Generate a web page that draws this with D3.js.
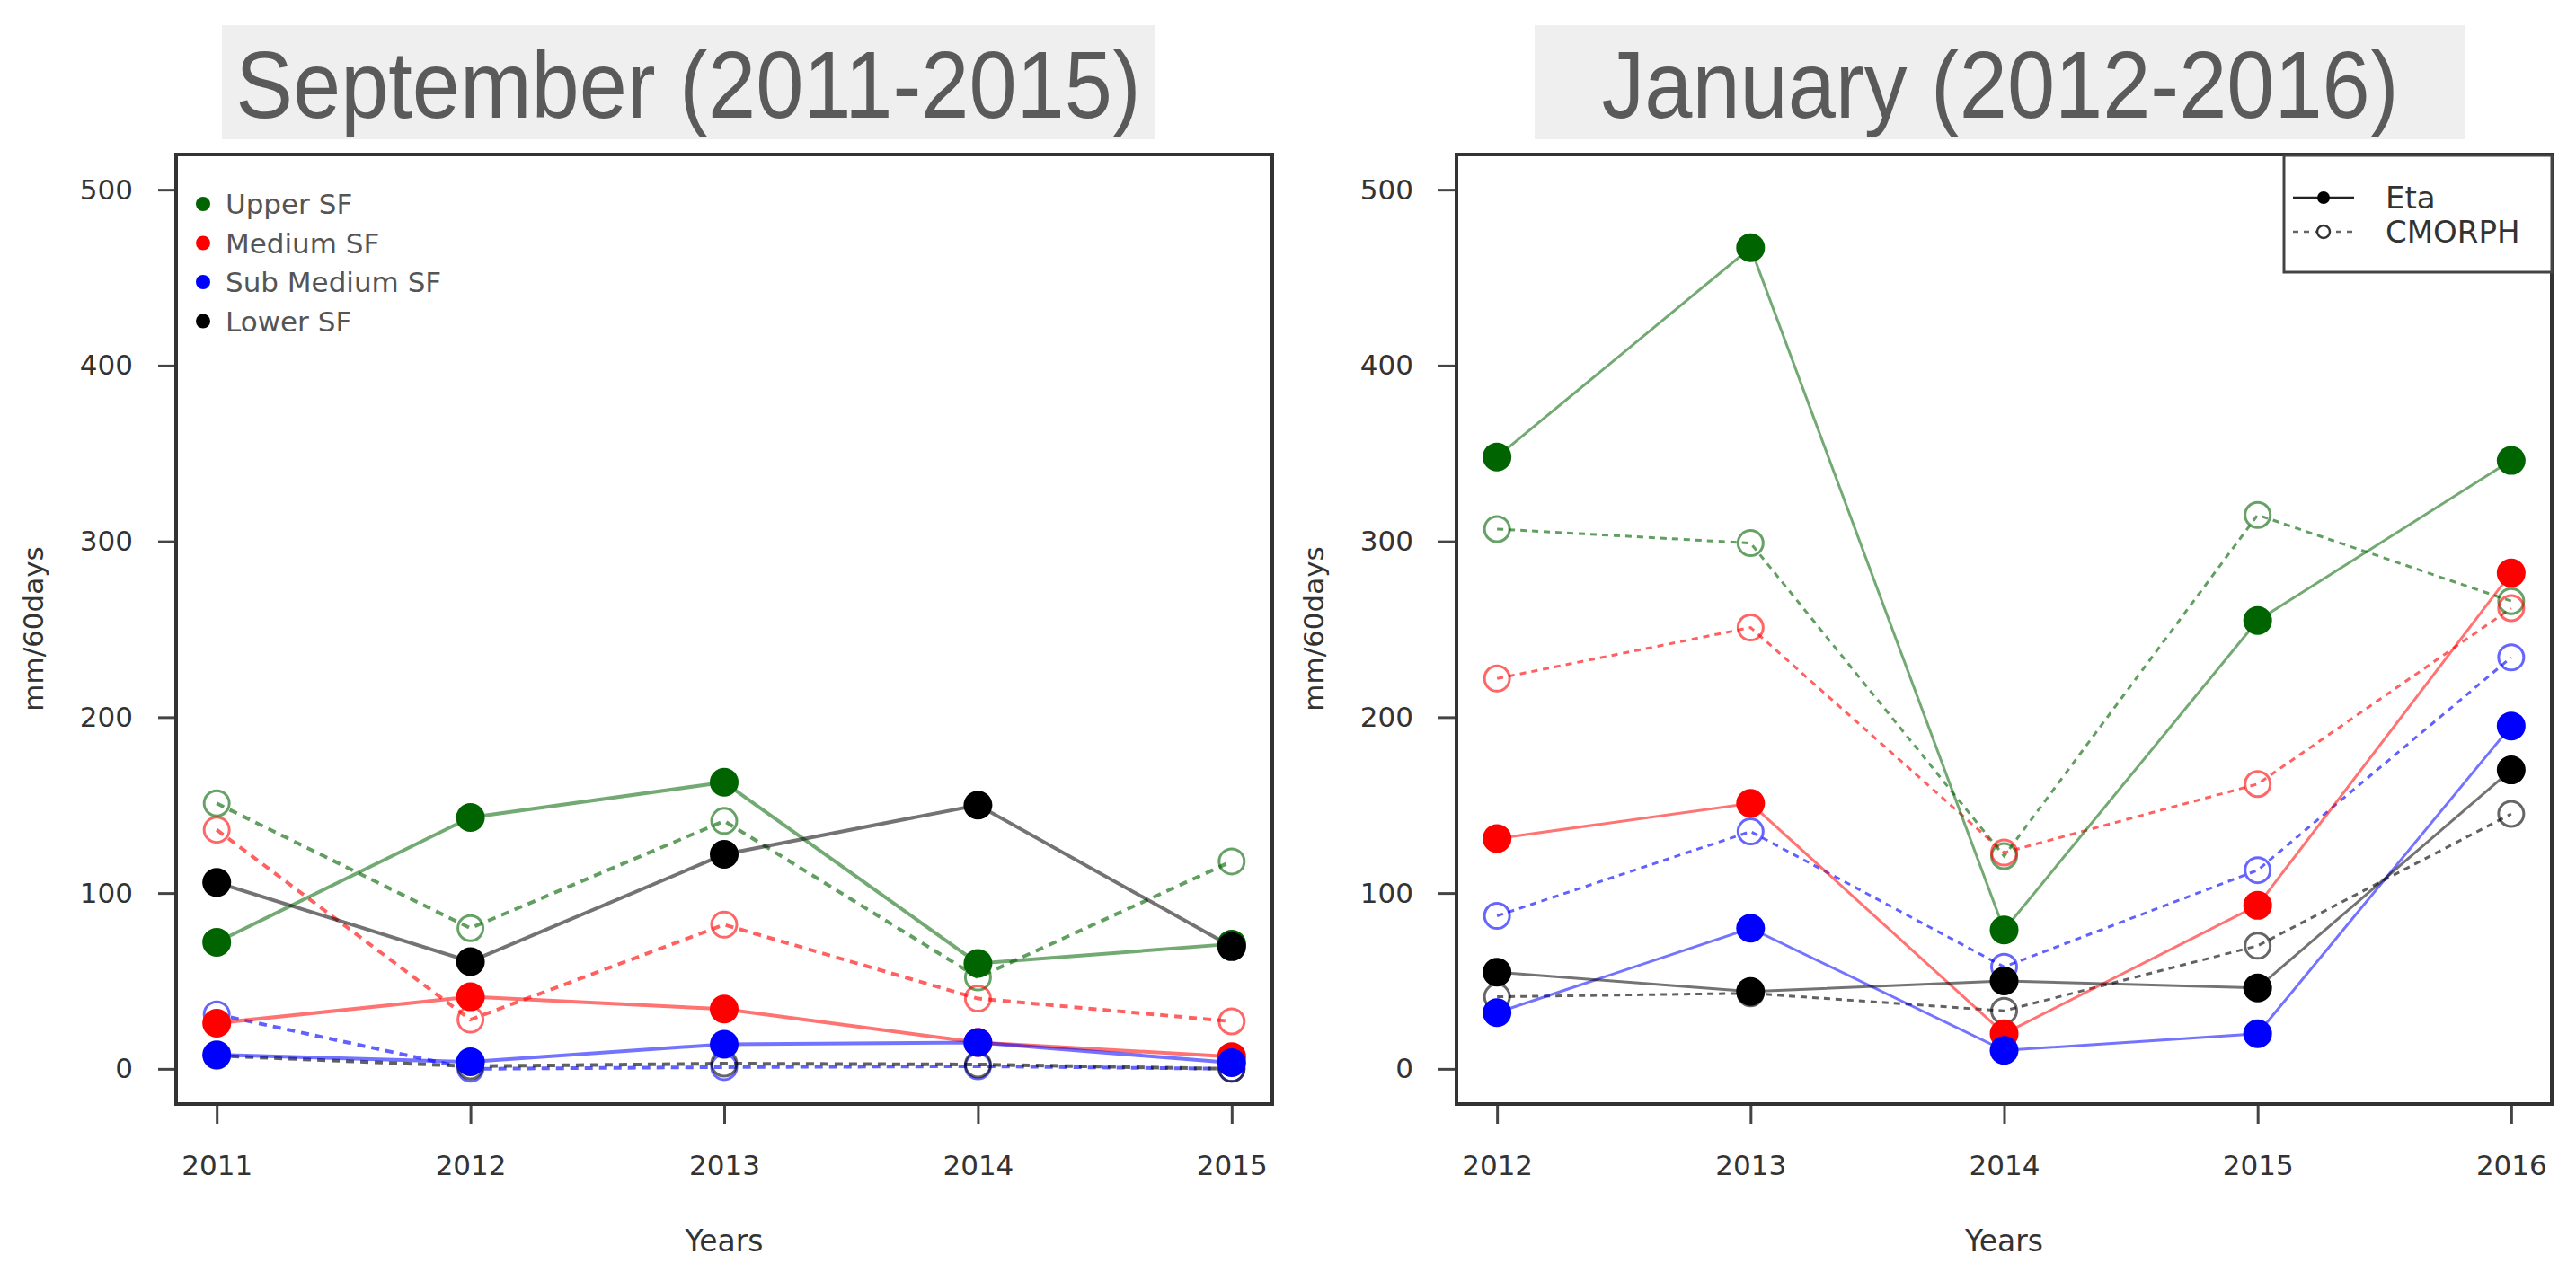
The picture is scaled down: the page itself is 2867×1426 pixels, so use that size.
<!DOCTYPE html>
<html>
<head>
<meta charset="utf-8">
<script src="https://cdn.jsdelivr.net/npm/d3@7"></script>
<style>
  body { margin: 0; background: #fff; }
  svg { display: block; }
</style>
</head>
<body>
<svg id="chart" width="2867" height="1426"></svg>
<script>
const regions = ["Upper SF", "Medium SF", "Sub Medium SF", "Lower SF"];
const regionColors = ["#006400", "#ff0000", "#0000ff", "#000000"];
const yTicks = [0, 100, 200, 300, 400, 500];

// September panel
const sepYears = [2011, 2012, 2013, 2014, 2015];
const sepEtaUpper = [72, 143, 163, 60, 71];
const sepEtaMedium = [26, 41, 34, 15, 7];
const sepEtaSub = [8, 4, 14, 15, 3.5];
const sepEtaLower = [106, 61, 122, 150, 69.5];
const sepCmoUpper = [151, 80, 141, 52, 118];
const sepCmoMedium = [136, 28, 82, 40, 27];
const sepCmoSub = [31, 0, 1, 1.5, 0];
const sepCmoLower = [7.5, 1.5, 3, 2.5, 0];

// January panel
const janYears = [2012, 2013, 2014, 2015, 2016];
const janEtaUpper = [348, 467, 79, 255, 346];
const janEtaMedium = [131, 151, 20, 93, 282];
const janEtaSub = [32, 80, 10.5, 20, 195];
const janEtaLower = [55, 44, 50, 46, 170];
const janCmoUpper = [307, 299, 121, 315, 266];
const janCmoMedium = [222, 251, 123, 162, 262];
const janCmoSub = [87, 135, 58, 113, 234];
const janCmoLower = [41, 43, 33, 70, 145];

const svg = d3.select("#chart");
const axisFont = "'DejaVu Sans', sans-serif";
const titleFont = "'Liberation Sans', Arial, sans-serif";

function fade(c, a) {
  const col = d3.color(c);
  col.opacity = a;
  return col.formatRgb();
}

function drawPanel(opt) {
  const { left, right, top, bottom, years, eta, cmo, title, titleBox, lineW, dash } = opt;
  const x = d3.scaleLinear().domain([years[0] - 0.16, years[4] + 0.16]).range([left, right]);
  const y = d3.scaleLinear().domain([-20, 520]).range([bottom, top]);
  const g = svg.append("g");

  // title box
  g.append("rect")
    .attr("x", titleBox[0]).attr("y", 28)
    .attr("width", titleBox[1] - titleBox[0]).attr("height", 127)
    .attr("fill", "#efefef");
  g.append("text")
    .attr("transform", `translate(${(titleBox[0] + titleBox[1]) / 2},131) scale(0.91,1)`)
    .attr("text-anchor", "middle")
    .style("font-family", titleFont)
    .style("font-size", "105px")
    .attr("fill", "#5a5a5a")
    .text(title);

  // axes
  const yAxis = g.append("g")
    .attr("transform", `translate(${left},0)`)
    .call(d3.axisLeft(y).tickValues(yTicks).tickSize(20).tickPadding(28));
  const xAxis = g.append("g")
    .attr("transform", `translate(0,${bottom})`)
    .call(d3.axisBottom(x).tickValues(years).tickFormat(d3.format("d")).tickSize(22).tickPadding(35));
  [yAxis, xAxis].forEach(a => {
    a.select(".domain").remove();
    a.selectAll(".tick line").attr("stroke", "#444").attr("stroke-width", 3);
    a.selectAll(".tick text")
      .attr("fill", "#333")
      .style("font-family", axisFont)
      .style("font-size", "31px");
  });

  g.append("text")
    .attr("transform", `translate(${left - 148},700) rotate(-90)`)
    .attr("text-anchor", "middle")
    .style("font-family", axisFont)
    .style("font-size", "31px")
    .attr("fill", "#333")
    .text("mm/60days");
  g.append("text")
    .attr("x", (left + right) / 2).attr("y", 1393)
    .attr("text-anchor", "middle")
    .style("font-family", axisFont)
    .style("font-size", "33px")
    .attr("fill", "#333")
    .text("Years");

  const line = d3.line().x((d, i) => x(years[i])).y(d => y(d));

  // lines
  cmo.forEach((vals, k) => {
    g.append("path").attr("d", line(vals))
      .attr("fill", "none")
      .attr("stroke", fade(regionColors[k], 0.62))
      .attr("stroke-width", lineW)
      .attr("stroke-dasharray", dash);
  });
  eta.forEach((vals, k) => {
    g.append("path").attr("d", line(vals))
      .attr("fill", "none")
      .attr("stroke", fade(regionColors[k], 0.55))
      .attr("stroke-width", lineW);
  });

  // open circles (CMORPH)
  cmo.forEach((vals, k) => {
    g.selectAll(null).data(vals).enter().append("circle")
      .attr("cx", (d, i) => x(years[i]))
      .attr("cy", d => y(d))
      .attr("r", 14)
      .attr("fill", "none")
      .attr("stroke", fade(regionColors[k], 0.6))
      .attr("stroke-width", 3);
  });
  // filled points (Eta)
  eta.forEach((vals, k) => {
    g.selectAll(null).data(vals).enter().append("circle")
      .attr("cx", (d, i) => x(years[i]))
      .attr("cy", d => y(d))
      .attr("r", 16)
      .attr("fill", regionColors[k]);
  });

  // frame
  g.append("rect")
    .attr("x", left).attr("y", top)
    .attr("width", right - left).attr("height", bottom - top)
    .attr("fill", "none")
    .attr("stroke", "#333")
    .attr("stroke-width", 4);
  return { g, x, y };
}

drawPanel({
  left: 196, right: 1416, top: 172, bottom: 1229,
  years: sepYears,
  eta: [sepEtaUpper, sepEtaMedium, sepEtaSub, sepEtaLower],
  cmo: [sepCmoUpper, sepCmoMedium, sepCmoSub, sepCmoLower],
  title: "September (2011-2015)", titleBox: [247, 1285],
  lineW: 4, dash: "9,7"
});

drawPanel({
  left: 1621, right: 2840, top: 172, bottom: 1229,
  years: janYears,
  eta: [janEtaUpper, janEtaMedium, janEtaSub, janEtaLower],
  cmo: [janCmoUpper, janCmoMedium, janCmoSub, janCmoLower],
  title: "January (2012-2016)", titleBox: [1708, 2744],
  lineW: 3, dash: "7,6"
});

// region legend (left panel)
const leg1 = svg.append("g");
regions.forEach((r, i) => {
  const cy = 227 + i * 43.5;
  leg1.append("circle").attr("cx", 226).attr("cy", cy).attr("r", 8).attr("fill", regionColors[i]);
  leg1.append("text")
    .attr("x", 251).attr("y", cy + 11)
    .style("font-family", axisFont)
    .style("font-size", "31px")
    .attr("fill", "#555")
    .text(r);
});

// source legend (right panel)
const leg2 = svg.append("g");
leg2.append("rect")
  .attr("x", 2542).attr("y", 173).attr("width", 298).attr("height", 130)
  .attr("fill", "#fff").attr("stroke", "#444").attr("stroke-width", 3);
const sources = ["Eta", "CMORPH"];
sources.forEach((s, i) => {
  const cy = 220 + i * 38;
  leg2.append("line")
    .attr("x1", 2552).attr("x2", 2620).attr("y1", cy).attr("y2", cy)
    .attr("stroke", i === 0 ? "#222" : "#666")
    .attr("stroke-width", 2.5)
    .attr("stroke-dasharray", i === 0 ? null : "6,6");
  leg2.append("circle")
    .attr("cx", 2586).attr("cy", cy).attr("r", 7)
    .attr("fill", i === 0 ? "#000" : "#fff")
    .attr("stroke", i === 0 ? "none" : "#333")
    .attr("stroke-width", 2.5);
  leg2.append("text")
    .attr("x", 2655).attr("y", cy + 12)
    .style("font-family", axisFont)
    .style("font-size", "34px")
    .attr("fill", "#333")
    .text(s);
});
</script>
</body>
</html>
